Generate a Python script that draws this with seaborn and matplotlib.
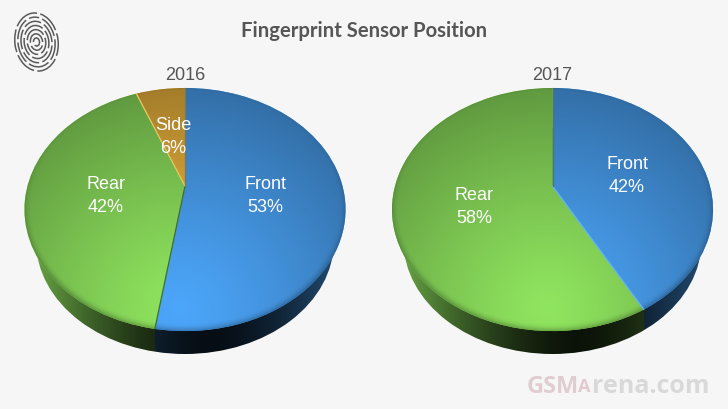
#!/usr/bin/env python3
"""Fingerprint sensor position, 2016 vs 2017, as two tilted pies."""

import numpy as np
import matplotlib
matplotlib.use("Agg")
import matplotlib.pyplot as plt
import seaborn as sns
from matplotlib.patches import Circle, Ellipse
from matplotlib.transforms import Transform

# data
labels_2016 = ["Front", "Rear", "Side"]
values_2016 = [53, 42, 6]
labels_2017 = ["Front", "Rear"]
values_2017 = [42, 58]
years = ["2016", "2017"]
title = "Fingerprint Sensor Position"

BG = "#f6f6f6"
INK = "#565656"
palette = {"Front": "#4ca6fa", "Rear": "#90e55f", "Side": "#f5bb40"}
edge_2016 = ["#3f6f2a", "#e8c860", "#6f7a60"]
edge_2017 = ["#62b4ff", "#4d7a5a"]

sns.set_theme(style="white", rc={"figure.facecolor": BG, "axes.facecolor": BG})
plt.rcParams["font.family"] = ["Liberation Sans", "DejaVu Sans"]


class TiltedDisc(Transform):
    """Perspective view of the unit disc, output in pixel coordinates."""
    input_dims = 2
    output_dims = 2

    def __init__(self, cx, cy, b, a, k):
        super().__init__()
        self.cx, self.cy, self.b, self.a, self.k = cx, cy, b, a, k

    def transform_non_affine(self, xy):
        xy = np.asarray(xy, dtype=float)
        w = 1 + self.k * xy[:, 1]
        return np.column_stack([self.cx + self.b * xy[:, 0] / w,
                                self.cy - self.a * xy[:, 1] / w])

    def unproject(self, px, py):
        dx, dy = px - self.cx, self.cy - py
        y = dy / (self.a - self.k * dy)
        return dx * (1 + self.k * y) / self.b, y


def draw_pie(ax, cx, values, names, edges):
    tilt = TiltedDisc(cx, 187, 157.5, 117, 0.1935)
    lower = TiltedDisc(cx, 242, 149, 113, 0)
    px, py = np.meshgrid(np.arange(728) + 0.5, np.arange(410) + 0.5)
    extent = (0, 728, 410, 0)

    wedges, _ = ax.pie(values, startangle=90, counterclock=False, radius=1,
                       colors=[palette[n] for n in names],
                       wedgeprops={"linewidth": 0, "edgecolor": "none"})

    # side wall, coloured by the slice above it
    arc = np.radians(np.linspace(-180, 0, 721))
    rim_x = tilt.transform_non_affine(np.column_stack([np.cos(arc), np.sin(arc)]))[:, 0]
    col_angle = np.degrees(np.interp(px[0], rim_x, arc))
    wall = np.zeros((410, 728, 3))
    d = np.abs(px[0] - (cx + 25)) / 150
    col_shade = 0.09 + 0.55 * d ** 1.6
    for w, n in zip(wedges, names):
        mask = ((col_angle - w.theta1) % 360) < (w.theta2 - w.theta1)
        wall[:, mask] = np.array(matplotlib.colors.to_rgb(palette[n])) * 0.9
    wall *= np.clip(col_shade, 0, 1)[None, :, None]
    im = ax.imshow(wall, extent=extent, zorder=1, aspect="auto", interpolation="bilinear")
    disc = Circle((0, 0), 1, transform=lower + ax.transData, fc="none", ec="none", lw=0)
    ax.add_patch(disc)
    im.set_clip_path(disc)

    # top face: soft light from the lower middle, rim falls off mostly at the bottom
    ux, uy = tilt.unproject(px, py)
    r = np.hypot(ux, uy)
    dist = np.hypot(px - (cx - 5), py - 310)
    shade = 1 - 0.42 * (dist / 270) ** 1.2
    rim = np.clip((r - 0.955) / 0.045, 0, 1) ** 2
    shade *= 1 - rim * (0.06 + 0.2 * np.clip(0.3 - uy, 0, 1))
    for w, n in zip(wedges, names):
        w.set_transform(tilt + ax.transData)
        w.set_zorder(2)
        rgb = np.array(matplotlib.colors.to_rgb(palette[n]))
        im = ax.imshow(shade[..., None] * rgb, extent=extent, zorder=3,
                       aspect="auto", interpolation="bilinear")
        im.set_clip_path(w)

    # hairlines between slices
    for w, c in zip(wedges, edges):
        t = np.radians(w.theta1)
        ax.plot([0, np.cos(t)], [0, np.sin(t)], color=c, lw=0.9, zorder=4,
                transform=tilt + ax.transData)


def fingerprint(ax):
    # whorl of broken rings
    for i, rx in enumerate(np.arange(3, 22, 3.1)):
        ax.add_patch(Ellipse((36.5, 43), rx * 2, rx * 2.7, angle=-8, fc="none",
                             ec="#5a5a5a", lw=1.1, zorder=2,
                             linestyle=(i * 2, (9 + i, 2.2))))


fig = plt.figure(figsize=(7.28, 4.10), dpi=100, facecolor=BG)
ax = fig.add_axes([0, 0, 1, 1])

draw_pie(ax, 185, values_2016, labels_2016, edge_2016)
draw_pie(ax, 552.5, values_2017, labels_2017, edge_2017)
fingerprint(ax)

ax.set_xlim(0, 728)
ax.set_ylim(410, 0)
ax.set_aspect("auto")
ax.axis("off")

# slice captions
caption_pos_2016 = [(265, 196), (106, 196), (173, 137)]
caption_pos_2017 = [(627, 176), (474, 207)]
for names, vals, pos in [(labels_2016, values_2016, caption_pos_2016),
                         (labels_2017, values_2017, caption_pos_2017)]:
    for n, v, (x, y) in zip(names, vals, pos):
        ax.text(x, y, f"{n}\n{v}%", color="white", fontsize=13, ha="center",
                va="center", linespacing=1.42, zorder=6)

ax.text(185, 76, years[0], color=INK, fontsize=13, ha="center", va="center", zorder=6)
ax.text(552, 75, years[1], color=INK, fontsize=13, ha="center", va="center", zorder=6)
ax.text(364.5, 31, title, color=INK, fontsize=14.6, fontweight="bold", ha="center",
        va="center", family=["Lato", "Liberation Sans"], zorder=6)

# watermark
ax.text(527, 387, "GSM", color="#dfcdd2", fontsize=17, fontweight="bold", ha="left",
        va="center", zorder=6, family=["Open Sans", "DejaVu Sans"])
ax.text(584, 387, "A", color="#e3c9d0", fontsize=13, fontweight="bold", ha="center",
        va="center", zorder=6, family=["Open Sans", "DejaVu Sans"])
ax.text(710, 387, "rena.com", color="#d9d9d9", fontsize=18, fontweight="bold", ha="right",
        va="center", zorder=6, family=["Open Sans", "DejaVu Sans"])

fig.savefig("out.png", dpi=100, facecolor=BG)
